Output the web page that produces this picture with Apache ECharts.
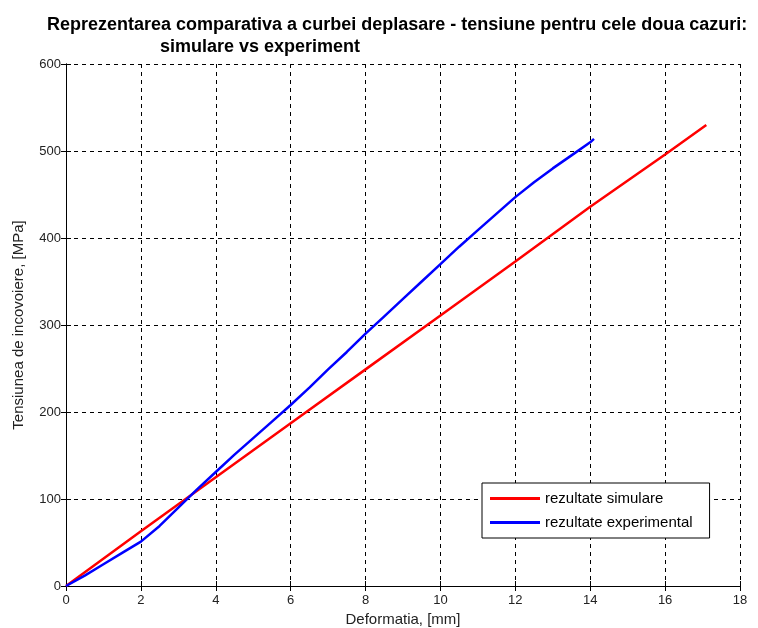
<!DOCTYPE html>
<html><head><meta charset="utf-8">
<script src="https://cdn.jsdelivr.net/npm/echarts@6/dist/echarts.min.js"></script>
<style>html,body{margin:0;padding:0;background:#fff}#c{width:758px;height:628px}</style>
</head><body><div id="c"></div>
<script>
const titleLine1 = 'Reprezentarea comparativa a curbei deplasare - tensiune pentru cele doua cazuri:';
const titleLine2 = 'simulare vs experiment';
const xName = 'Deformatia, [mm]';
const yName = 'Tensiunea de incovoiere, [MPa]';
const seriesNames = ['rezultate simulare', 'rezultate experimental'];
const simX = [0, 2, 4, 6, 8, 10, 12, 14, 16, 17.1];
const simY = [0, 63, 125, 187, 249, 311, 373, 436, 496, 530];
const expX = [0, 0.5, 1, 1.5, 2, 2.5, 3, 3.5, 4, 4.5, 5, 5.5, 6, 6.5, 7, 7.5, 8, 8.5, 9, 9.5, 10, 10.5, 11, 11.5, 12, 12.5, 13, 13.5, 14, 14.1];
const expY = [0, 12, 25, 38, 51, 69, 90, 111, 131, 151, 170, 189, 208, 228, 249, 269, 290, 310, 330, 350, 370, 390, 409, 428, 447, 464, 480, 495, 510, 514];

const pair = (xs, ys) => xs.map((x, i) => [x, ys[i]]);
const font = 'Arial, "Liberation Sans", sans-serif';
const chart = echarts.init(document.getElementById('c'));
const dashed = {show: true, lineStyle: {color: '#000', type: [4, 4], width: 1}};
chart.setOption({
  animation: false,
  title: [
    {text: titleLine1, left: 42, top: 11, textStyle: {fontFamily: font, fontSize: 18, fontWeight: 'bold', color: '#000'}},
    {text: titleLine2, left: 155, top: 33, textStyle: {fontFamily: font, fontSize: 18, fontWeight: 'bold', color: '#000'}}
  ],
  grid: {left: 66, right: 18, top: 64, bottom: 42, outerBoundsMode: 'none', containLabel: false},
  legend: {
    left: 482, top: 483, orient: 'vertical',
    backgroundColor: '#fff', borderColor: '#000', borderWidth: 1,
    padding: [8, 17, 8, 8], itemGap: 9, itemWidth: 50, itemHeight: 3,
    icon: 'rect',
    textStyle: {fontFamily: font, fontSize: 15, color: '#000'},
    data: seriesNames
  },
  xAxis: [
    {type: 'value', min: 0, max: 18, interval: 2, position: 'bottom',
     name: xName, nameLocation: 'middle', nameGap: 26,
     nameTextStyle: {fontFamily: font, fontSize: 15, color: '#222'},
     axisLine: {show: true, lineStyle: {color: '#000'}},
     axisTick: {show: true, inside: true, length: 5, lineStyle: {color: '#000'}},
     axisLabel: {fontFamily: font, fontSize: 13, color: '#222', margin: 8},
     splitLine: dashed},
    {type: 'value', min: 0, max: 18, interval: 2, position: 'top',
     axisLine: {show: true, lineStyle: {color: '#000'}},
     axisTick: {show: true, inside: true, length: 5, lineStyle: {color: '#000'}},
     axisLabel: {show: false}, splitLine: {show: false}}
  ],
  yAxis: [
    {type: 'value', min: 0, max: 600, interval: 100, position: 'left',
     name: yName, nameLocation: 'middle', nameGap: 40,
     nameTextStyle: {fontFamily: font, fontSize: 15, color: '#222'},
     axisLine: {show: true, lineStyle: {color: '#000'}},
     axisTick: {show: true, inside: true, length: 5, lineStyle: {color: '#000'}},
     axisLabel: {fontFamily: font, fontSize: 13, color: '#222', margin: 5},
     splitLine: dashed},
    {type: 'value', min: 0, max: 600, interval: 100, position: 'right',
     axisLine: {show: true, lineStyle: {color: '#000'}},
     axisTick: {show: true, inside: true, length: 5, lineStyle: {color: '#000'}},
     axisLabel: {show: false}, splitLine: {show: false}}
  ],
  series: [
    {name: seriesNames[0], type: 'line', data: pair(simX, simY), showSymbol: false,
     lineStyle: {color: '#ff0000', width: 2.5}, itemStyle: {color: '#ff0000'}},
    {name: seriesNames[1], type: 'line', data: pair(expX, expY), showSymbol: false,
     lineStyle: {color: '#0000ff', width: 2.5}, itemStyle: {color: '#0000ff'}}
  ]
});
</script></body></html>
